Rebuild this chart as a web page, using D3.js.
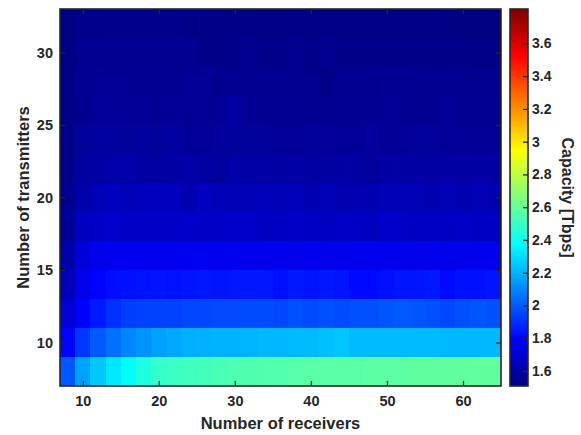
<!DOCTYPE html>
<html><head><meta charset="utf-8">
<script src="https://cdn.jsdelivr.net/npm/d3@7"></script>
<style>
html,body{margin:0;padding:0;background:#fff;}
text{font-family:"Liberation Sans",Arial,Helvetica,sans-serif;font-weight:bold;fill:#262626;}
</style></head>
<body><svg id="chart" width="581" height="435"></svg>
<script>
// ---- data ----
const receivers = [8,10,12,14,16,18,20,22,24,26,28,30,32,34,36,38,40,42,44,46,48,50,52,54,56,58,60,62,64];
const transmitters = [8,10,12,14,16,18,20,22,24,26,28,30,32];
// capacity[i][j]: transmitters[i], receivers[j] (Tbps)
const capacity = [
 [1.99,2.156,2.246,2.32,2.37,2.44,2.49,2.505,2.515,2.525,2.535,2.545,2.55,2.555,2.56,2.565,2.57,2.57,2.575,2.575,2.58,2.58,2.58,2.585,2.585,2.585,2.585,2.59,2.59],
 [1.80,1.92,1.994,2.048,2.10,2.13,2.156,2.174,2.19,2.195,2.20,2.20,2.205,2.21,2.21,2.215,2.22,2.228,2.245,2.215,2.215,2.215,2.215,2.215,2.215,2.211,2.211,2.211,2.211],
 [1.70,1.796,1.85,1.904,1.935,1.94,1.94,1.945,1.955,1.955,1.96,1.96,1.965,1.965,1.958,1.976,1.962,1.976,1.966,1.976,1.976,1.987,1.994,1.987,1.976,1.958,1.976,1.987,1.976],
 [1.636,1.748,1.80,1.82,1.83,1.835,1.84,1.835,1.84,1.845,1.84,1.845,1.85,1.845,1.832,1.85,1.841,1.85,1.841,1.814,1.814,1.832,1.841,1.841,1.85,1.814,1.832,1.832,1.841],
 [1.599,1.71,1.75,1.76,1.762,1.76,1.755,1.76,1.765,1.765,1.76,1.765,1.76,1.755,1.755,1.75,1.755,1.745,1.75,1.755,1.755,1.755,1.755,1.75,1.755,1.745,1.75,1.755,1.755],
 [1.563,1.653,1.67,1.68,1.67,1.67,1.67,1.67,1.672,1.668,1.67,1.672,1.675,1.653,1.665,1.67,1.665,1.655,1.67,1.665,1.655,1.675,1.67,1.665,1.665,1.665,1.67,1.66,1.665],
 [1.545,1.60,1.63,1.653,1.636,1.65,1.65,1.65,1.617,1.65,1.63,1.63,1.63,1.635,1.63,1.635,1.625,1.63,1.62,1.625,1.625,1.63,1.635,1.63,1.625,1.63,1.625,1.635,1.625],
 [1.535,1.58,1.59,1.60,1.60,1.59,1.585,1.59,1.60,1.585,1.58,1.60,1.59,1.59,1.585,1.59,1.585,1.58,1.59,1.585,1.575,1.59,1.585,1.59,1.585,1.59,1.585,1.59,1.585],
 [1.53,1.57,1.575,1.58,1.57,1.58,1.57,1.585,1.565,1.565,1.575,1.57,1.57,1.57,1.565,1.565,1.57,1.57,1.565,1.565,1.575,1.56,1.565,1.57,1.575,1.565,1.565,1.56,1.56],
 [1.53,1.54,1.565,1.563,1.56,1.563,1.555,1.56,1.555,1.555,1.563,1.585,1.553,1.553,1.55,1.55,1.545,1.545,1.55,1.55,1.55,1.555,1.55,1.545,1.55,1.56,1.55,1.55,1.55],
 [1.525,1.55,1.555,1.555,1.555,1.55,1.555,1.55,1.56,1.565,1.54,1.54,1.545,1.545,1.54,1.545,1.54,1.525,1.545,1.545,1.545,1.55,1.55,1.545,1.545,1.54,1.545,1.54,1.54],
 [1.522,1.545,1.545,1.548,1.548,1.548,1.55,1.548,1.548,1.53,1.535,1.535,1.545,1.53,1.535,1.545,1.53,1.545,1.53,1.53,1.53,1.53,1.53,1.53,1.535,1.53,1.53,1.525,1.525],
 [1.515,1.535,1.535,1.535,1.535,1.535,1.535,1.535,1.525,1.53,1.53,1.53,1.52,1.525,1.52,1.52,1.52,1.518,1.518,1.518,1.52,1.518,1.518,1.518,1.518,1.518,1.515,1.515,1.515]
];
const xTicks = [10,20,30,40,50,60];
const yTicks = [10,15,20,25,30];
const cTicks = [1.6,1.8,2,2.2,2.4,2.6,2.8,3,3.2,3.4,3.6];
const colorLimits = [1.508, 3.81];
const xLabel = "Number of receivers";
const yLabel = "Number of transmitters";
const cLabel = "Capacity [Tbps]";

// ---- layout ----
const L = 60, R = 501, T = 9, B = 386;
const cbL = 510, cbR = 528;
const ink = "#262626";

function jet(t){
  t = Math.max(0, Math.min(1, t));
  const c = v => Math.max(0, Math.min(1, v));
  const r = c(1.5 - Math.abs(4*t - 3));
  const g = c(1.5 - Math.abs(4*t - 2));
  const b = c(1.5 - Math.abs(4*t - 1));
  return d3.rgb(r*255, g*255, b*255).formatHex();
}

const svg = d3.select("#chart");
const x = d3.scaleLinear().domain([7,65]).range([L,R]);
const y = d3.scaleLinear().domain([7,33]).range([B,T]);
const color = d3.scaleSequential(jet).domain(colorLimits);

// cells
const cells = [];
transmitters.forEach((tv,i)=>receivers.forEach((rv,j)=>cells.push({r:rv,t:tv,v:capacity[i][j]})));
svg.append("g").selectAll("rect").data(cells).join("rect")
  .attr("x", d=>x(d.r-1)).attr("y", d=>y(d.t+1))
  .attr("width", d=>x(d.r+1)-x(d.r-1)+0.4).attr("height", d=>y(d.t-1)-y(d.t+1)+0.4)
  .attr("fill", d=>color(d.v)).attr("shape-rendering","crispEdges");

// axes (ticks inward)
const tl = 5;
const gx = svg.append("g").attr("transform",`translate(0,${B})`)
  .call(d3.axisBottom(x).tickValues(xTicks).tickSize(-tl).tickPadding(10).tickFormat(d3.format("d")));
const gxt = svg.append("g").attr("transform",`translate(0,${T})`)
  .call(d3.axisTop(x).tickValues(xTicks).tickSize(-tl).tickFormat(""));
const gy = svg.append("g").attr("transform",`translate(${L},0)`)
  .call(d3.axisLeft(y).tickValues(yTicks).tickSize(-tl).tickPadding(7).tickFormat(d3.format("d")));
const gyr = svg.append("g").attr("transform",`translate(${R},0)`)
  .call(d3.axisRight(y).tickValues(yTicks).tickSize(-tl).tickFormat(""));
[gx,gxt,gy,gyr].forEach(g=>{
  g.select(".domain").remove();
  g.selectAll(".tick line").attr("stroke",ink).attr("stroke-width",1.3);
  g.selectAll(".tick text").style("font-size","14.5px").attr("fill",ink);
});
svg.append("rect").attr("x",L).attr("y",T).attr("width",R-L).attr("height",B-T)
  .attr("fill","none").attr("stroke",ink).attr("stroke-width",1.6);

// axis labels
svg.append("text").attr("x",(L+R)/2).attr("y",429).attr("text-anchor","middle")
  .style("font-size","16.5px").text(xLabel);
svg.append("text").attr("transform",`translate(29,${(T+B)/2}) rotate(-90)`).attr("text-anchor","middle")
  .style("font-size","16.5px").text(yLabel);

// colorbar
const cy = d3.scaleLinear().domain(colorLimits).range([B,T]);
const defs = svg.append("defs");
const grad = defs.append("linearGradient").attr("id","jetgrad")
  .attr("x1","0").attr("y1","1").attr("x2","0").attr("y2","0");
d3.range(0,1.0001,1/64).forEach(s=>grad.append("stop").attr("offset",s).attr("stop-color",jet(s)));
svg.append("rect").attr("x",cbL).attr("y",T).attr("width",cbR-cbL).attr("height",B-T).attr("fill","url(#jetgrad)");
const gc = svg.append("g").attr("transform",`translate(${cbR},0)`)
  .call(d3.axisRight(cy).tickValues(cTicks).tickSize(-5).tickPadding(4).tickFormat(d=>d3.format("")(+d.toFixed(1))));
gc.select(".domain").remove();
gc.selectAll(".tick line").attr("stroke",ink).attr("stroke-width",1.3);
gc.selectAll(".tick text").style("font-size","14px").attr("fill",ink);
svg.append("rect").attr("x",cbL).attr("y",T).attr("width",cbR-cbL).attr("height",B-T)
  .attr("fill","none").attr("stroke",ink).attr("stroke-width",1.6);
svg.append("text").attr("transform",`translate(561.5,${(T+B)/2}) rotate(90)`).attr("text-anchor","middle")
  .style("font-size","16px").text(cLabel);
</script></body></html>
